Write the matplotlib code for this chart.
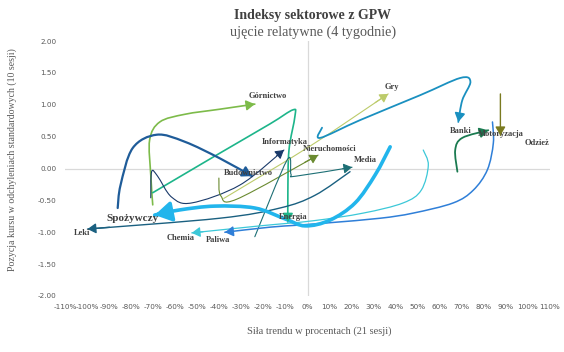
import matplotlib
matplotlib.use('Agg')
import matplotlib.pyplot as plt
from matplotlib.path import Path
from matplotlib.patches import PathPatch

# x: sila trendu (%), y: pozycja kursu (odchylenia standardowe)
gornictwo_x = [-70.2, -71.1, -71.6, -67.0, -55.7, -39.8, -23.9]
gornictwo_y = [-0.57, -0.10, 0.45, 0.73, 0.85, 0.93, 1.01]

energia_x = [-70.2, -39.8, -17.0, -6.6, -5.7, -8.4, -8.9, -8.9]
energia_y = [-0.38, 0.24, 0.70, 0.92, 0.82, 0.29, -0.34, -0.84]

budownictwo_x = [-86.1, -84.8, -79.3, -68.4, -55.7, -39.8, -25.2]
budownictwo_y = [-0.62, -0.26, 0.32, 0.53, 0.42, 0.16, -0.12]

informatyka_x = [-71.1, -70.7, -68.0, -61.6, -52.5, -30.7, -10.7]
informatyka_y = [-0.46, -0.05, -0.12, -0.45, -0.54, -0.26, 0.29]

spozywczy_x = [37.5, 30.7, 21.6, 10.2, -1.1, -10.2, -23.9, -42.0, -58.0, -69.3]
spozywczy_y = [0.34, -0.10, -0.54, -0.81, -0.90, -0.79, -0.62, -0.59, -0.65, -0.73]

banki_x = [6.6, 5.7, 23.9, 51.1, 69.3, 73.9, 70.2, 68.4]
banki_y = [0.64, 0.48, 0.76, 1.15, 1.42, 1.36, 1.07, 0.73]

paliwa_x = [83.9, 84.3, 81.6, 75.2, 66.1, 47.9, 33.0, 10.2, -4.8, -17.0, -37.5]
paliwa_y = [0.73, 0.40, -0.02, -0.34, -0.54, -0.70, -0.78, -0.85, -0.89, -0.92, -1.00]

chemia_x = [52.5, 54.8, 51.6, 43.4, 25.2, 2.5, -21.6, -52.5]
chemia_y = [0.29, 0.05, -0.34, -0.54, -0.70, -0.82, -0.90, -1.01]

leki_x = [19.3, 3.4, -12.5, -39.8, -99.8]
leki_y = [-0.05, -0.42, -0.62, -0.78, -0.95]

media_x = [-23.9, -9.3, -7.5, -5.2, 20.2]
media_y = [-1.07, 0.13, -0.09, -0.12, 0.02]

gry_x = [-38.0, 1.1, 36.6]
gry_y = [-0.47, 0.35, 1.17]

nieruchomosci_x = [-40.2, -39.3, -32.0, 4.8]
nieruchomosci_y = [-0.15, -0.43, -0.48, 0.21]

motoryzacja_x = [68.0, 67.0, 70.2, 82.0]
motoryzacja_y = [-0.05, 0.29, 0.48, 0.60]

odziez_x = [87.5, 87.5]
odziez_y = [1.17, 0.52]

x_ticks = list(range(-110, 111, 10))
y_ticks = [-2.0, -1.5, -1.0, -0.5, 0.0, 0.5, 1.0, 1.5, 2.0]

# name, x, y, color, linewidth, arrow size, label offset (px), label size
series = [
    ('Górnictwo', gornictwo_x, gornictwo_y, '#7dbb4a', 1.2, 10, (13, 8), 6),
    ('Energia', energia_x, energia_y, '#1db58a', 1.2, 10, (5, 5), 6),
    ('Budownictwo', budownictwo_x, budownictwo_y, '#1f5c99', 1.6, 11, (-4, 3), 6),
    ('Informatyka', informatyka_x, informatyka_y, '#1a3a6a', 0.8, 10, (1, 8), 6),
    ('Gry', gry_x, gry_y, '#bccb6a', 0.8, 10, (4, 7), 6),
    ('Nieruchomości', nieruchomosci_x, nieruchomosci_y, '#6a8a30', 0.8, 10, (12, 6), 6),
    ('Media', media_x, media_y, '#1d6f75', 0.8, 10, (13, 7), 6),
    ('Leki', leki_x, leki_y, '#1a6080', 1.0, 10, (-5, -4), 6),
    ('Chemia', chemia_x, chemia_y, '#3cc8d8', 0.9, 10, (-11, -5), 6),
    ('Paliwa', paliwa_x, paliwa_y, '#2f7fd8', 1.1, 10, (-7, -8), 6),
    ('Banki', banki_x, banki_y, '#1a90c0', 1.3, 10, (2, -9), 6),
    ('Motoryzacja', motoryzacja_x, motoryzacja_y, '#1a7a50', 1.3, 10, (12, -4), 6),
    ('Odzież', odziez_x, odziez_y, '#7a7a20', 1.0, 10, (37, -8), 6),
    ('Spożywczy', spozywczy_x, spozywczy_y, '#22b5ec', 2.6, 20, (-22, -3), 8),
]


def smooth_path(xs, ys):
    # Catmull-Rom -> Bezier (jak wygladzona linia w Excelu)
    pts = list(zip(xs, ys))
    verts = [pts[0]]
    codes = [Path.MOVETO]
    n = len(pts)
    for i in range(n - 1):
        p0 = pts[i - 1] if i > 0 else pts[i]
        p1 = pts[i]
        p2 = pts[i + 1]
        p3 = pts[i + 2] if i + 2 < n else pts[i + 1]
        c1 = (p1[0] + (p2[0] - p0[0]) / 6, p1[1] + (p2[1] - p0[1]) / 6)
        c2 = (p2[0] - (p3[0] - p1[0]) / 6, p2[1] - (p3[1] - p1[1]) / 6)
        verts += [c1, c2, p2]
        codes += [Path.CURVE4] * 3
    return Path(verts, codes), c2


fig = plt.figure(figsize=(5.64, 3.52), dpi=100)
ax = fig.add_axes([65 / 564, 1 - 296 / 352, 485 / 564, 255 / 352])
ax.set_xlim(-110, 110)
ax.set_ylim(-2, 2)

ax.axhline(0, color='#d9d9d9', lw=0.9, zorder=0)
ax.axvline(0, color='#d9d9d9', lw=0.9, zorder=0)
for s in ax.spines.values():
    s.set_visible(False)

serif = 'Liberation Serif'
for name, xs, ys, color, lw, head, off, fs in series:
    path, ctrl = smooth_path(xs, ys)
    ax.add_patch(PathPatch(path, facecolor='none', edgecolor=color, lw=lw,
                           capstyle='round', joinstyle='round'))
    end = (xs[-1], ys[-1])
    ax.annotate('', xy=end, xytext=ctrl,
                arrowprops=dict(arrowstyle='-|>,head_length=0.5,head_width=0.3',
                                color=color, lw=lw, mutation_scale=head,
                                shrinkA=0, shrinkB=0))
    ax.annotate(name, xy=end, xytext=off, textcoords='offset pixels',
                ha='center', va='center', fontsize=fs, fontweight='bold',
                family=serif, color='#404040')

ax.set_xticks(x_ticks)
ax.set_xticklabels([f'{t}%' for t in x_ticks])
ax.set_yticks(y_ticks)
ax.set_yticklabels([f'{t:.2f}' for t in y_ticks])
ax.tick_params(length=0, labelsize=5.2, labelcolor='#595959', pad=6)

fig.text(319 / 564, 1 - 331 / 352, 'Siła trendu w procentach (21 sesji)',
         ha='center', va='center', family=serif, fontsize=7.5, color='#595959')
fig.text(12 / 564, 1 - 160 / 352,
         'Pozycja kursu w odchyleniach standardowych (10 sesji)',
         rotation=90, ha='center', va='center', family=serif, fontsize=7.1,
         color='#595959')

fig.text(313 / 564, 1 - 16 / 352, 'Indeksy sektorowe z GPW', ha='center',
         va='center', family=serif, fontweight='bold', fontsize=10,
         color='#404040')
fig.text(313 / 564, 1 - 32 / 352, 'ujęcie relatywne (4 tygodnie)', ha='center',
         va='center', family=serif, fontsize=10.2, color='#595959')

fig.savefig('out.png', dpi=100)
